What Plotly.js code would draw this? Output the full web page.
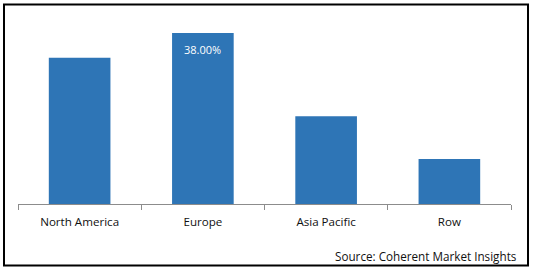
<!DOCTYPE html>
<html>
<head>
<meta charset="utf-8">
<script src="https://cdn.plot.ly/plotly-3.0.1.min.js"></script>
<style>
html,body{margin:0;padding:0;background:#fff;}
#chart{width:535px;height:272px;}
</style>
</head>
<body>
<div id="chart"></div>
<script>
const regions = ["North America", "Europe", "Asia Pacific", "Row"];
const shares = [32.5, 38.0, 19.5, 10.0];
const labelled = ["Europe"];
const sourceText = "Source: Coherent Market Insights";

const FONT = "Open Sans, DejaVu Sans, sans-serif";

const annotations = regions
  .map((r, i) => ({r, v: shares[i]}))
  .filter(d => labelled.includes(d.r))
  .map(d => ({
    x: d.r, y: d.v, xref: "x", yref: "y",
    text: d.v.toFixed(2) + "%",
    showarrow: false, yanchor: "top", yshift: -7,
    font: {family: FONT, size: 11, color: "#ffffff"}
  }));

annotations.push({
  xref: "paper", yref: "paper", x: 1.0162, y: -0.2889,
  xanchor: "right", yanchor: "middle", showarrow: false,
  text: sourceText,
  font: {family: FONT, size: 11.7, color: "#111111"}
});

const data = [{
  type: "bar",
  x: regions,
  y: shares,
  marker: {color: "#2E75B6"},
  hoverinfo: "none"
}];

const layout = {
  width: 535, height: 272,
  margin: {l: 18, r: 24, t: 24, b: 68, pad: 0},
  paper_bgcolor: "#ffffff", plot_bgcolor: "#ffffff",
  bargap: 0.5,
  showlegend: false,
  xaxis: {
    type: "category",
    showline: true, linecolor: "#8c8c8c", linewidth: 1,
    ticks: "outside", ticklen: 5, tickcolor: "#8c8c8c", tickwidth: 1,
    tickson: "boundaries",
    ticklabelstandoff: 7,
    showgrid: false, zeroline: false,
    tickfont: {family: FONT, size: 11.6, color: "#111111"},
    fixedrange: true
  },
  yaxis: {
    range: [0, 40], visible: false, showgrid: false, zeroline: false, fixedrange: true
  },
  annotations: annotations,
  shapes: [{
    type: "rect", xref: "paper", yref: "paper",
    x0: -0.0284, x1: 1.0345, y0: -0.3417, y1: 1.1083,
    line: {color: "#000000", width: 2}, fillcolor: "rgba(0,0,0,0)", layer: "above"
  }]
};

Plotly.newPlot("chart", data, layout, {displayModeBar: false, staticPlot: true});
</script>
</body>
</html>
